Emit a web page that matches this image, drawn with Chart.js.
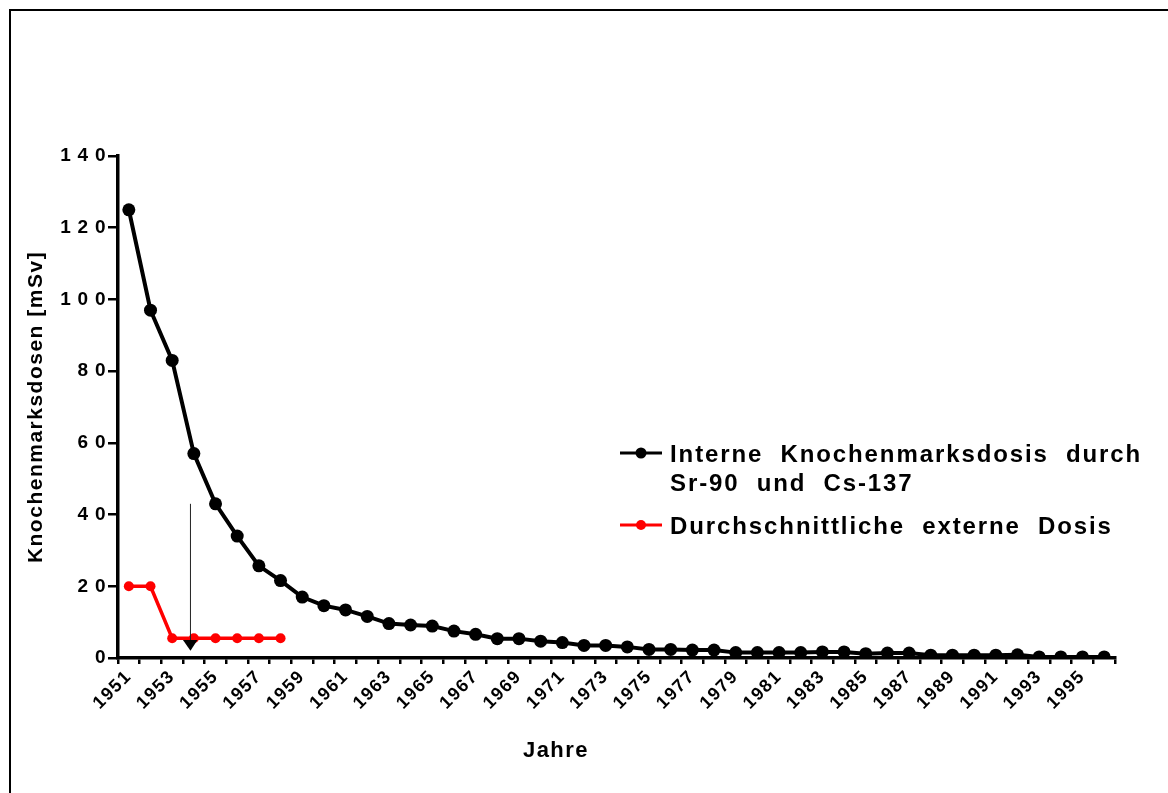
<!DOCTYPE html>
<html>
<head>
<meta charset="utf-8">
<title>Knochenmarksdosen</title>
<script src="https://cdn.jsdelivr.net/npm/chart.js@4.4.0/dist/chart.umd.min.js"></script>
<style>
  html, body { margin: 0; padding: 0; background: #fff; overflow: hidden; }
  #wrap { position: relative; width: 1168px; height: 793px; }
  #frame { position: absolute; left: 9px; top: 9px; width: 1300px; height: 900px;
           border-top: 2px solid #000; border-left: 2px solid #000; }
  canvas { position: absolute; left: 0; top: 0; }
</style>
</head>
<body>
<div id="wrap">
  <div id="frame"></div>
  <canvas id="doseChart" width="1168" height="793"></canvas>
</div>
<script>
// Years (categories)
const years = [
  1951, 1952, 1953, 1954, 1955, 1956, 1957, 1958, 1959, 1960,
  1961, 1962, 1963, 1964, 1965, 1966, 1967, 1968, 1969, 1970,
  1971, 1972, 1973, 1974, 1975, 1976, 1977, 1978, 1979, 1980,
  1981, 1982, 1983, 1984, 1985, 1986, 1987, 1988, 1989, 1990,
  1991, 1992, 1993, 1994, 1995, 1996
];

// Internal bone marrow dose from Sr-90 and Cs-137 (mSv)
const internalDose = [
  125, 97, 83, 57, 43, 34, 25.7, 21.6, 17, 14.6,
  13.4, 11.6, 9.6, 9.2, 8.9, 7.5, 6.6, 5.4, 5.4, 4.7,
  4.3, 3.5, 3.5, 3.1, 2.4, 2.4, 2.2, 2.2, 1.5, 1.5,
  1.5, 1.5, 1.7, 1.7, 1.2, 1.4, 1.4, 0.8, 0.8, 0.8,
  0.8, 0.9, 0.3, 0.3, 0.3, 0.3
];

// Average external dose (mSv), 1951-1958 only
const externalDose = [20, 20, 5.5, 5.5, 5.5, 5.5, 5.5, 5.5];

// Y axis ticks
const yTickValues = [0, 20, 40, 60, 80, 100, 120, 140];

// Legend texts
const internalLabel = ["Interne  Knochenmarksdosis  durch", "Sr-90  und  Cs-137"];
const externalLabel = ["Durchschnittliche  externe  Dosis"];
const xTitle = "Jahre";
const yTitle = "Knochenmarksdosen [mSv]";

// Arrow marker (category position, dose values)
const arrowAt = 2.82;
const arrowFrom = 43;
const arrowBase = 5;
const arrowTip = 2;

Chart.defaults.font.family = '"Liberation Sans", Arial, Helvetica, sans-serif';
Chart.defaults.font.weight = 'bold';
Chart.defaults.color = '#000';

const SPACING = '1.5px';

const spacingPlugin = {
  id: 'spacing',
  beforeUpdate(chart) { chart.ctx.letterSpacing = SPACING; },
  beforeDraw(chart) { chart.ctx.letterSpacing = SPACING; }
};

// Arrow pointing down at the start of the flat part of the external dose
const arrowPlugin = {
  id: 'arrow',
  afterDatasetsDraw(chart) {
    const { ctx, scales: { x, y } } = chart;
    const px = x.getPixelForValue(arrowAt);
    const yTop = y.getPixelForValue(arrowFrom);
    const yBase = y.getPixelForValue(arrowBase);
    const yTip = y.getPixelForValue(arrowTip);
    ctx.save();
    ctx.strokeStyle = '#222';
    ctx.lineWidth = 1;
    ctx.beginPath();
    ctx.moveTo(px + 0.5, yTop);
    ctx.lineTo(px + 0.5, yBase);
    ctx.stroke();
    ctx.fillStyle = '#000';
    ctx.beginPath();
    ctx.moveTo(px - 7, yBase);
    ctx.lineTo(px + 7.5, yBase);
    ctx.lineTo(px + 0.5, yTip);
    ctx.closePath();
    ctx.fill();
    ctx.restore();
  }
};

// Legend inside the plot (right side) and the x axis title
const legendPlugin = {
  id: 'sideLegend',
  afterDraw(chart) {
    const ctx = chart.ctx;
    const items = [
      { color: '#000', radius: 5.5, lines: internalLabel, y: 453, textY: 455 },
      { color: '#ff0000', radius: 5, lines: externalLabel, y: 525, textY: 527 }
    ];
    ctx.save();
    ctx.beginPath();
    ctx.rect(0, 0, 1145, chart.height);
    ctx.clip();
    ctx.letterSpacing = '1.9px';
    ctx.font = 'bold 24px "Liberation Sans", Arial, sans-serif';
    ctx.textBaseline = 'middle';
    ctx.textAlign = 'left';
    items.forEach(item => {
      ctx.strokeStyle = item.color;
      ctx.fillStyle = item.color;
      ctx.lineWidth = 3;
      ctx.beginPath();
      ctx.moveTo(620, item.y);
      ctx.lineTo(662, item.y);
      ctx.stroke();
      ctx.beginPath();
      ctx.arc(641, item.y, item.radius, 0, Math.PI * 2);
      ctx.fill();
      ctx.fillStyle = '#000';
      item.lines.forEach((t, i) => ctx.fillText(t, 670, item.textY + i * 29));
    });
    ctx.restore();

    ctx.save();
    ctx.letterSpacing = SPACING;
    ctx.font = 'bold 22px "Liberation Sans", Arial, sans-serif';
    ctx.textAlign = 'center';
    ctx.textBaseline = 'middle';
    ctx.fillStyle = '#000';
    ctx.fillText(xTitle, 556, 751);
    ctx.restore();
  }
};

const doseChart = new Chart(document.getElementById('doseChart'), {
  type: 'line',
  data: {
    labels: years.map(String),
    datasets: [
      {
        label: internalLabel.join(' '),
        data: internalDose,
        borderColor: '#000',
        backgroundColor: '#000',
        borderWidth: 4,
        pointRadius: 6.5,
        pointHoverRadius: 6.5,
        pointBorderWidth: 0,
        tension: 0
      },
      {
        label: externalLabel.join(' '),
        data: externalDose,
        borderColor: '#ff0000',
        backgroundColor: '#ff0000',
        borderWidth: 3.5,
        pointRadius: 5,
        pointHoverRadius: 5,
        pointBorderWidth: 0,
        tension: 0
      }
    ]
  },
  options: {
    responsive: false,
    animation: false,
    layout: {
      padding: { top: 156, right: 53, bottom: 0, left: 0 }
    },
    plugins: {
      legend: { display: false },
      tooltip: { enabled: false }
    },
    scales: {
      x: {
        offset: true,
        grid: {
          offset: true,
          drawOnChartArea: false,
          drawTicks: true,
          tickLength: 6,
          color: '#000',
          lineWidth: 2.5
        },
        border: { display: true, color: '#000', width: 3.5 },
        ticks: {
          autoSkip: false,
          maxRotation: 45,
          minRotation: 45,
          padding: 2,
          font: { size: 18, weight: 'bold' },
          callback: function (value, index) {
            return index % 2 === 0 ? years[index] : '';
          }
        },
        afterFit(scale) { scale.height = 135; }
      },
      y: {
        min: 0,
        max: 140,
        afterBuildTicks(scale) {
          scale.ticks = yTickValues.map(v => ({ value: v }));
        },
        grid: {
          drawOnChartArea: false,
          drawTicks: true,
          tickLength: 10,
          color: '#000',
          lineWidth: 2.5
        },
        border: { display: true, color: '#000', width: 3.5 },
        ticks: {
          padding: 1,
          font: { size: 19, weight: 'bold' },
          callback: v => String(v).split('').join('\u2009')
        },
        title: {
          display: true,
          text: yTitle,
          font: { size: 21, weight: 'bold' },
          padding: { top: 24, bottom: 0 }
        },
        afterFit(scale) { scale.width = 118; }
      }
    }
  },
  plugins: [spacingPlugin, arrowPlugin, legendPlugin]
});
</script>
</body>
</html>
